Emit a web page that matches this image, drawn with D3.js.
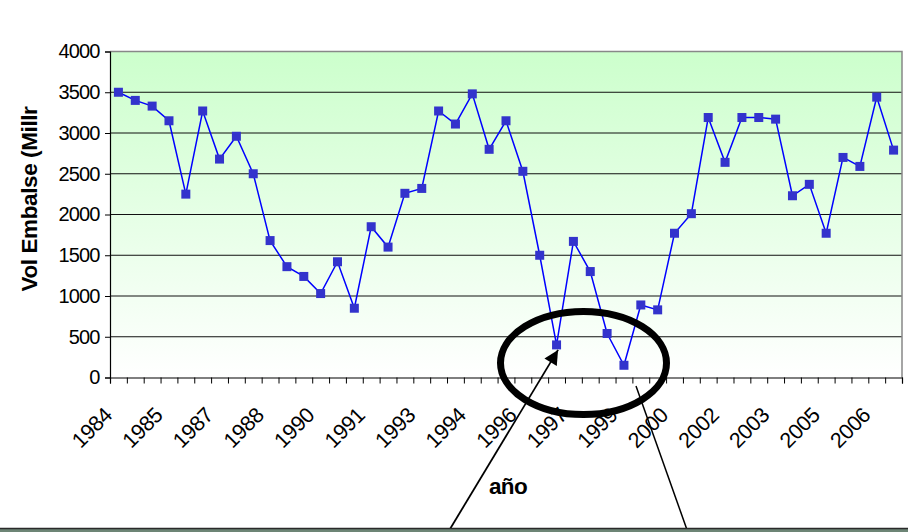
<!DOCTYPE html>
<html>
<head>
<meta charset="utf-8">
<script src="https://cdn.jsdelivr.net/npm/d3@7/dist/d3.min.js"></script>
<style>
  html, body { margin: 0; padding: 0; background: #fff; }
  svg { display: block; font-family: "Liberation Sans", Arial, sans-serif; }
</style>
</head>
<body>
<svg id="chart" width="908" height="532"></svg>
<script>
// Reservoir volume, two readings per year
const anios = [
  "1984","1984","1985","1985","1986","1986","1987","1987","1988","1988",
  "1989","1989","1990","1990","1991","1991","1992","1992","1993","1993",
  "1994","1994","1995","1995","1996","1996","1997","1997","1998","1998",
  "1999","1999","2000","2000","2001","2001","2002","2002","2003","2003",
  "2004","2004","2005","2005","2006","2006","2007"
];
const volumen = [
  3500,3400,3330,3150,2250,3270,2680,2960,2500,1680,
  1360,1240,1030,1420,850,1850,1600,2260,2320,3270,
  3110,3480,2800,3150,2530,1500,400,1670,1300,540,
  150,890,830,1770,2010,3190,2640,3190,3190,3170,
  2230,2370,1770,2700,2590,3440,2790
];
// Every third reading gets a year label on the category axis
const etiquetasCada = 3;
const yTicks = [0,500,1000,1500,2000,2500,3000,3500,4000];

const svg = d3.select("#chart");
const m = { left: 110, top: 51.5, right: 6, bottom: 154.5 };
const W = 908 - m.left - m.right;
const H = 532 - m.top - m.bottom;

const idx = d3.range(volumen.length);
const x = d3.scaleBand().domain(idx).range([0, W]);
const xEdge = d3.scaleLinear().domain([0, volumen.length]).range([0, W]);
const y = d3.scaleLinear().domain([0, 4000]).range([H, 0]);

const defs = svg.append("defs");
const grad = defs.append("linearGradient").attr("id", "fondo")
  .attr("x1", 0).attr("y1", 0).attr("x2", 0).attr("y2", 1);
grad.append("stop").attr("offset", "0%").attr("stop-color", "#ccffcc");
grad.append("stop").attr("offset", "100%").attr("stop-color", "#ffffff");

const g = svg.append("g").attr("transform", `translate(${m.left},${m.top})`);

// plot area background
g.append("rect").attr("width", W).attr("height", H).attr("fill", "url(#fondo)");

// horizontal gridlines
g.selectAll("line.grid").data(yTicks.filter(v => v > 0 && v < 4000)).join("line")
  .attr("class", "grid")
  .attr("x1", 0).attr("x2", W)
  .attr("y1", d => y(d)).attr("y2", d => y(d))
  .attr("stroke", "#111").attr("stroke-width", 1);

// plot area border (top and right)
g.append("path")
  .attr("d", `M0,${y(4000)}H${W}V${H}`)
  .attr("fill", "none").attr("stroke", "#888").attr("stroke-width", 1.5);

// y axis
const yAxis = g.append("g").call(
  d3.axisLeft(y).tickValues(yTicks).tickSize(5).tickPadding(5.5).tickFormat(d3.format("d"))
);
yAxis.select(".domain").attr("stroke", "#000").attr("stroke-width", 1.2);
yAxis.selectAll(".tick line").attr("stroke", "#000");
yAxis.selectAll("text").attr("font-size", 20).attr("fill", "#000")
  .attr("font-family", "Liberation Sans, Arial, sans-serif").attr("letter-spacing", -0.9);

// x axis: tick marks between categories
const xAxis = g.append("g").attr("transform", `translate(0,${H})`).call(
  d3.axisBottom(xEdge).tickValues(d3.range(volumen.length + 1)).tickSize(6).tickFormat("")
);
xAxis.select(".domain").attr("stroke", "#000").attr("stroke-width", 1.2);
xAxis.selectAll(".tick line").attr("stroke", "#000");

// x labels every third reading, rotated
const lab = g.append("g").attr("class", "xlabels");
lab.selectAll("text").data(idx.filter(i => i % etiquetasCada === 0)).join("text")
  .attr("transform", i => `translate(${x(i) + x.bandwidth() / 2 - 5},${H + 39}) rotate(-45)`)
  .attr("text-anchor", "end")
  .attr("font-size", 21.5)
  .attr("letter-spacing", -0.4)
  .attr("fill", "#000")
  .text(i => anios[i]);

// series line
const linea = d3.line()
  .x((d, i) => x(i) + x.bandwidth() / 2)
  .y(d => y(d));
g.append("path").datum(volumen)
  .attr("d", linea)
  .attr("fill", "none").attr("stroke", "#0000ff").attr("stroke-width", 1.5);

// square markers
const s = 9;
g.selectAll("rect.mk").data(volumen).join("rect")
  .attr("class", "mk")
  .attr("x", (d, i) => x(i) + x.bandwidth() / 2 - s / 2)
  .attr("y", d => y(d) - s / 2)
  .attr("width", s).attr("height", s)
  .attr("fill", "#3333cc");

// y title
svg.append("text")
  .attr("transform", "translate(37,199) rotate(-90)")
  .attr("text-anchor", "middle")
  .attr("font-size", 22.5).attr("font-weight", "bold")
  .attr("letter-spacing", -0.4)
  .attr("fill", "#000")
  .text("Vol Embalse (Millr");

// x title
svg.append("text")
  .attr("x", 508).attr("y", 494)
  .attr("text-anchor", "middle")
  .attr("font-size", 22.5).attr("font-weight", "bold")
  .attr("letter-spacing", -0.6)
  .attr("fill", "#000")
  .text("año");

// highlight of the lowest readings
const iMin = 26;
const tip = [m.left + x(iMin) + x.bandwidth() / 2 + 1.5, m.top + y(volumen[iMin]) + 5];
svg.append("ellipse")
  .attr("cx", 583.5).attr("cy", 363).attr("rx", 83).attr("ry", 51.5)
  .attr("fill", "none").attr("stroke", "#000").attr("stroke-width", 7);

defs.append("marker").attr("id", "flecha")
  .attr("viewBox", "0 0 10 10").attr("refX", 10).attr("refY", 5)
  .attr("markerWidth", 10).attr("markerHeight", 8).attr("orient", "auto")
  .attr("markerUnits", "strokeWidth")
  .append("path").attr("d", "M0,0L10,5L0,10Z").attr("fill", "#000");

svg.append("line")
  .attr("x1", 447).attr("y1", 534).attr("x2", tip[0]).attr("y2", tip[1])
  .attr("stroke", "#000").attr("stroke-width", 1.8)
  .attr("marker-end", "url(#flecha)");

svg.append("line")
  .attr("x1", 636).attr("y1", 386).attr("x2", 688.5).attr("y2", 534)
  .attr("stroke", "#000").attr("stroke-width", 1.5);

// strip along the bottom edge
svg.append("rect").attr("x", 0).attr("y", 528.5).attr("width", 908).attr("height", 4)
  .attr("fill", "#6d8576");
svg.append("line").attr("x1", 0).attr("x2", 908).attr("y1", 528.5).attr("y2", 528.5)
  .attr("stroke", "#2a2a2a").attr("stroke-width", 1.5);
</script>
</body>
</html>
